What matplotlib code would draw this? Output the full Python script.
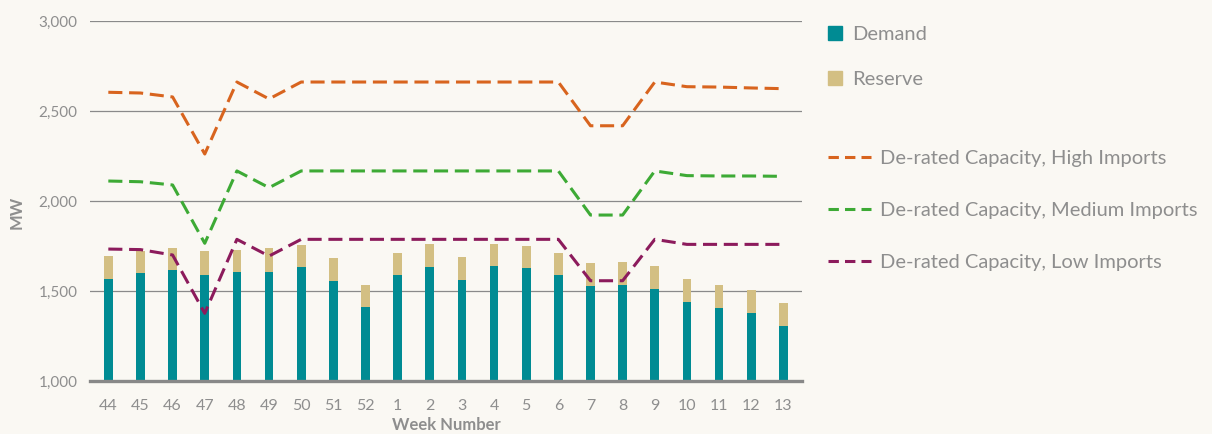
import matplotlib
matplotlib.use("Agg")
import matplotlib.pyplot as plt
from matplotlib.lines import Line2D
import numpy as np

weeks = ["44", "45", "46", "47", "48", "49", "50", "51", "52", "1", "2", "3",
         "4", "5", "6", "7", "8", "9", "10", "11", "12", "13"]
demand = [1567, 1600, 1617, 1589, 1606, 1606, 1633, 1556, 1411, 1589, 1633, 1561,
          1639, 1628, 1589, 1528, 1533, 1511, 1439, 1406, 1378, 1306]
reserve = [127, 122, 122, 133, 122, 133, 123, 127, 122, 122, 128, 128,
           122, 122, 122, 128, 128, 128, 128, 127, 128, 127]
high_imports = [2604, 2600, 2578, 2261, 2661, 2567, 2661, 2661, 2661, 2661, 2661, 2661,
                2661, 2661, 2661, 2418, 2418, 2661, 2635, 2633, 2628, 2624]
medium_imports = [2111, 2107, 2089, 1765, 2167, 2074, 2167, 2167, 2167, 2167, 2167, 2167,
                  2167, 2167, 2167, 1922, 1922, 2167, 2141, 2139, 2139, 2137]
low_imports = [1733, 1730, 1700, 1376, 1787, 1694, 1787, 1787, 1787, 1787, 1787, 1787,
               1787, 1787, 1787, 1557, 1557, 1787, 1759, 1759, 1759, 1759]

BG = "#FAF8F3"
TEXT = "#8E8E8E"
TEAL = "#008B93"
TAN = "#D3BF83"
ORANGE = "#D8641E"
GREEN = "#3DAA35"
PURPLE = "#8C1B5C"

plt.rcParams['font.family'] = ['Lato', 'DejaVu Sans']

fig = plt.figure(figsize=(12.12, 4.34), dpi=100, facecolor=BG)
ax = fig.add_axes([90 / 1212, 1 - 381 / 434, (802 - 90) / 1212, (381 - 21) / 434])
ax.set_facecolor(BG)

x = np.arange(len(weeks))
ax.bar(x, demand, width=0.27, bottom=0, color=TEAL, zorder=2, label="Demand")
ax.bar(x, reserve, width=0.27, bottom=demand, color=TAN, zorder=2, label="Reserve")

dash = (4.6, 2.2)
ax.plot(x, high_imports, color=ORANGE, lw=2.2, dashes=dash, zorder=3,
        label="De-rated Capacity, High Imports")
ax.plot(x, medium_imports, color=GREEN, lw=2.2, dashes=dash, zorder=3,
        label="De-rated Capacity, Medium Imports")
ax.plot(x, low_imports, color=PURPLE, lw=2.2, dashes=dash, zorder=3,
        label="De-rated Capacity, Low Imports")

ax.set_xlim(-0.57, 21.58)
ax.set_ylim(1000, 3000)
ax.set_yticks([1000, 1500, 2000, 2500, 3000])
ax.set_yticklabels(["1,000", "1,500", "2,000", "2,500", "3,000"])
ax.set_xticks(x)
ax.set_xticklabels(weeks)
ax.tick_params(axis='x', length=0, pad=13, labelsize=11.5, labelcolor=TEXT)
ax.tick_params(axis='y', length=0, pad=9, labelsize=11, labelcolor=TEXT)
ax.grid(axis='y', color="#8A8A8A", lw=0.9, zorder=1)
ax.set_axisbelow(True)
for s in ["top", "right", "left"]:
    ax.spines[s].set_visible(False)
ax.spines["bottom"].set_color("#888888")
ax.spines["bottom"].set_linewidth(2.4)
ax.spines["bottom"].set_zorder(4)

ax.set_xlabel("Week Number", fontsize=12, fontweight='bold', color=TEXT, labelpad=3)
ax.set_ylabel("MW", fontsize=12, fontweight='bold', color=TEXT)
ax.yaxis.set_label_coords(-0.0913, 0.469)

# Legends
FS = 14.5
bar_handles = [Line2D([], [], marker='s', ls='none', ms=9.5, color=TEAL),
               Line2D([], [], marker='s', ls='none', ms=9.5, color=TAN)]
leg1 = fig.legend(bar_handles, ["Demand", "Reserve"], loc='upper left',
                  bbox_to_anchor=(828 / 1212, 1 - 26 / 434), frameon=False,
                  fontsize=FS, labelcolor=TEXT, handlelength=0.65, handletextpad=0.55,
                  labelspacing=1.36, borderpad=0, borderaxespad=0)
line_handles = [Line2D([], [], color=c, lw=2.2, dashes=(3.4, 2.0)) for c in (ORANGE, GREEN, PURPLE)]
leg2 = fig.legend(line_handles, ["De-rated Capacity, High Imports",
                                 "De-rated Capacity, Medium Imports",
                                 "De-rated Capacity, Low Imports"],
                  loc='upper left', bbox_to_anchor=(828 / 1212, 1 - 150 / 434), frameon=False,
                  fontsize=FS, labelcolor=TEXT, handlelength=2.14, handletextpad=0.45,
                  labelspacing=1.72, borderpad=0, borderaxespad=0)

fig.savefig("out.png", dpi=100, facecolor=BG)
